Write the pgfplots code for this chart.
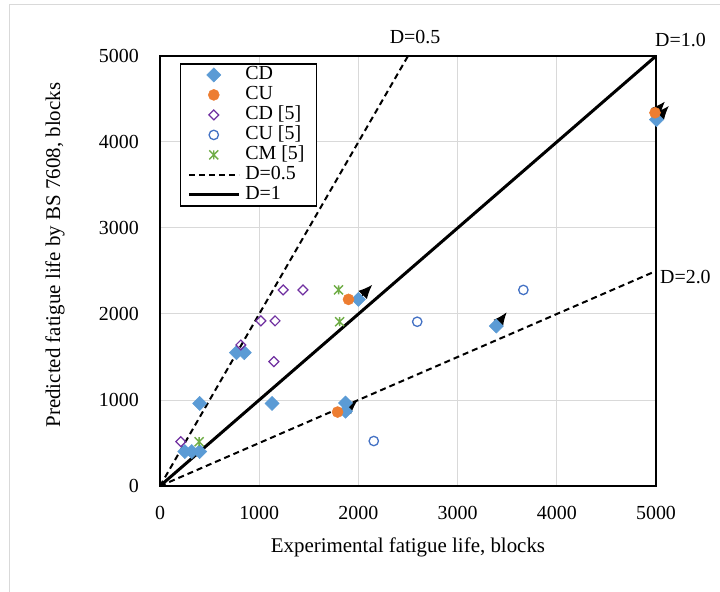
\documentclass[border=0pt]{standalone}
\usepackage{pgfplots}
\pgfplotsset{compat=1.18}
\usepackage{fontspec}
\setmainfont{Liberation Serif}
\usetikzlibrary{arrows.meta}

\definecolor{cdblue}{HTML}{5B9BD5}
\definecolor{cuorange}{HTML}{ED7D31}
\definecolor{cdpurple}{HTML}{7030A0}
\definecolor{cublue}{HTML}{4472C4}
\definecolor{cmgreen}{HTML}{70AD47}
\definecolor{gridgray}{HTML}{D9D9D9}

\pgfdeclareplotmark{xstar}{%
  \pgfpathmoveto{\pgfqpoint{-\pgfplotmarksize}{-\pgfplotmarksize}}%
  \pgfpathlineto{\pgfqpoint{\pgfplotmarksize}{\pgfplotmarksize}}%
  \pgfpathmoveto{\pgfqpoint{-\pgfplotmarksize}{\pgfplotmarksize}}%
  \pgfpathlineto{\pgfqpoint{\pgfplotmarksize}{-\pgfplotmarksize}}%
  \pgfpathmoveto{\pgfqpoint{0pt}{-\pgfplotmarksize}}%
  \pgfpathlineto{\pgfqpoint{0pt}{\pgfplotmarksize}}%
  \pgfusepathqstroke}

\pgfplotsset{
  mylegend/.style={legend image code/.code={%
    \draw[mark repeat=2,mark phase=2,##1] plot coordinates {(0bp,0bp) (25bp,0bp) (50bp,0bp)};}},
  runout/.style={black, line width=1.4bp, dash pattern=on 3bp off 2bp,
    -{Latex[length=14bp,width=12bp]}, forget plot},
}

\begin{document}
\begin{tikzpicture}
\useasboundingbox (-160bp,-106bp) rectangle (560bp,486bp);
\draw[gridgray, line width=1.5bp] (-150.5bp,-106bp) -- (-150.5bp,481.5bp) -- (560bp,481.5bp);
\begin{axis}[
  at={(0bp,0bp)}, anchor=south west,
  scale only axis, width=496bp, height=430bp,
  xmin=0, xmax=5000, ymin=0, ymax=5000,
  xtick={0,1000,2000,3000,4000,5000},
  ytick={0,1000,2000,3000,4000,5000},
  grid=major,
  major grid style={draw=gridgray, line width=1bp},
  axis line style={line width=1.5bp, black},
  tick style={draw=none},
  major tick length=0pt,
  clip=false,
  /pgf/number format/assume math mode=true,
  /pgf/number format/1000 sep={},
  tick label style={font=\fontsize{20}{24}\selectfont},
  xticklabel style={anchor=center, inner sep=0pt, yshift=-27bp},
  yticklabel style={anchor=east, inner sep=0pt, xshift=-21bp},
  xlabel={Experimental fatigue life, blocks},
  ylabel={Predicted fatigue life by BS 7608, blocks},
  every axis x label/.style={at={(axis description cs:0.5,0)}, anchor=center, yshift=-61bp, font=\fontsize{21}{24}\selectfont},
  every axis y label/.style={at={(axis description cs:0,0.537)}, xshift=-105bp, rotate=90, anchor=center, font=\fontsize{21}{24}\selectfont},
  legend style={at={(0.0397,0.983)}, anchor=north west, draw=black, line width=1.2bp,
    font=\fontsize{20}{20}\selectfont, inner xsep=7bp, inner ysep=1bp,
    nodes={inner ysep=1bp, inner xsep=5bp, text height=13.5bp, text depth=4.5bp},
    row sep=0bp},
  legend cell align=left,
]
% reference lines
\addplot[black, line width=2bp, dash pattern=on 6bp off 4bp, mylegend, forget plot] coordinates {(0,0) (5000,2500)};
% data
\addplot[only marks, mark=square*, mark size=5bp, mark options={rotate=45, fill=cdblue, draw=cdblue, line width=0.5bp}, mylegend]
  coordinates {(250,400) (320,400) (400,400) (400,960) (770,1550) (850,1550) (1130,960) (1870,965) (1870,870) (2000,2170) (3390,1860) (5005,4260)};
\addlegendentry{CD}
\addplot[only marks, mark=*, mark size=5.5bp, mark options={fill=cuorange, draw=cuorange, line width=0.5bp}, mylegend]
  coordinates {(1790,860) (1900,2170) (4990,4340)};
\addlegendentry{CU}
\addplot[only marks, mark=square, mark size=3.5bp, mark options={rotate=45, draw=cdpurple, line width=1.2bp, fill=white}, mylegend]
  coordinates {(210,515) (815,1640) (1017,1920) (1160,1920) (1148,1446) (1242,2280) (1441,2280)};
\addlegendentry{CD [5]}
\addplot[only marks, mark=o, mark size=4.7bp, mark options={draw=cublue, line width=1.3bp, fill=white}, mylegend]
  coordinates {(2155,523) (2593,1910) (3663,2280)};
\addlegendentry{CU [5]}
\addplot[only marks, mark=xstar, mark size=4.5bp, mark options={draw=cmgreen, line width=1.4bp}, mylegend]
  coordinates {(394,515) (1800,2280) (1810,1910)};
\addlegendentry{CM [5]}
\addplot[black, line width=2bp, dash pattern=on 6bp off 4bp, mylegend] coordinates {(0,0) (2500,5000)};
\addlegendentry{D=0.5}
\addplot[black, line width=3bp, mylegend] coordinates {(0,0) (5000,5000)};
\addlegendentry{D=1}
% run-out arrows
\addplot[runout] coordinates {(2000,2170) (2140,2340)};
\addplot[runout] coordinates {(1870,870) (1990,995)};
\addplot[runout] coordinates {(3390,1860) (3495,2020)};
\addplot[runout] coordinates {(4990,4340) (5090,4470)};
\addplot[runout] coordinates {(5005,4260) (5130,4420)};
% labels
\node[font=\fontsize{20}{24}\selectfont] at (axis cs:2571,5221) {D=0.5};
\node[font=\fontsize{20}{24}\selectfont, anchor=west, inner sep=0pt] at (axis cs:4990,5186) {D=1.0};
\node[font=\fontsize{20}{24}\selectfont, anchor=west, inner sep=0pt] at (axis cs:5040,2430) {D=2.0};
\end{axis}
\end{tikzpicture}
\end{document}
